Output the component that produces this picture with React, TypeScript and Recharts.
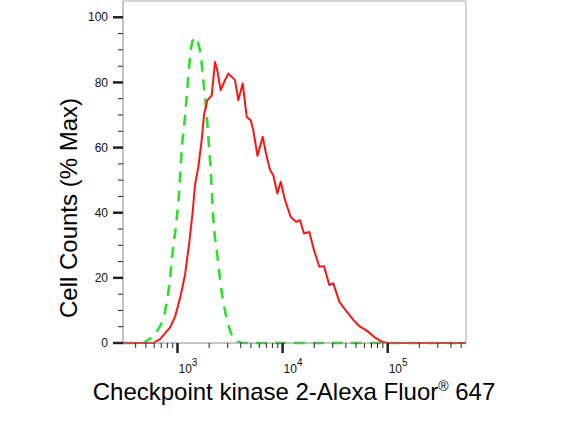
import React from "react";
import {
  LineChart,
  Line,
  XAxis,
  YAxis,
  ReferenceLine,
  Label
} from "recharts";

// stained sample (red, solid)
const sampleFluor = [
  303, 589, 682, 848, 947, 1056, 1179, 1295, 1395, 1467, 1577, 1699, 1787, 1921,
  2116, 2275, 2391, 2576, 2831, 3044, 3280, 3525, 3789, 4173, 4553, 4972, 5263,
  5770, 6467, 6952, 7591, 8154, 8904, 9592, 10540, 11940, 13420, 14640, 15980,
  17950, 19900, 22350, 24770, 27820, 30370, 34640, 40730, 47070, 54500, 63120,
  74060, 87690, 101300, 556000
];
const sampleCounts = [
  0, 0, 1.2, 4.7, 8, 13.7, 20.9, 31, 40.3, 48.5, 54, 62.3, 70, 74.5,
  76, 86.3, 83.7, 77.6, 80.7, 82.7, 81.7, 80.7, 74.5, 79.7, 69.4, 68.4, 65.3,
  57.5, 63.3, 58.2, 53.1, 51.5, 45.9, 49.5, 43.9, 38.7, 37.2, 37.7, 33.6,
  34.1, 28.5, 23.4, 23.6, 17.8, 18.3, 12.7, 9.6, 7.1, 5.0, 3.8,
  1.9, 0.4, 0, 0
];

// isotype control (green, dashed)
const controlFluor = [
  303, 470, 509, 634, 760, 835, 900, 983, 1040, 1096, 1179, 1267, 1344, 1413,
  1480, 1577, 1673, 1760, 1867, 1964, 2070, 2191, 2391, 2634, 2939, 3280, 3789,
  4198, 556000
];
const controlCounts = [
  0, 0, 0.6, 3.5, 9.6, 17.8, 28, 38.2, 47, 59.2, 69.4, 81.7, 90.4, 93.2,
  93.8, 91.9, 87.8, 80.7, 72.5, 63.3, 53.1, 38.2, 27, 15.7, 7.6, 2.5, 0.4,
  0, 0
];

const xMajor = [1000, 10000, 100000];
const xTicks = [
  400, 500, 600, 700, 800, 900, 1000,
  2000, 3000, 4000, 5000, 6000, 7000, 8000, 9000, 10000,
  20000, 30000, 40000, 50000, 60000, 70000, 80000, 90000, 100000,
  200000, 300000, 400000, 500000
];
const yTicks = [0, 5, 10, 15, 20, 25, 30, 35, 40, 45, 50, 55, 60, 65, 70, 75, 80, 85, 90, 95, 100];

const X_DOMAIN: [number, number] = [303, 556000];
const Y_DOMAIN: [number, number] = [0, 105];

const sampleData = sampleFluor.map((x, i) => ({ x, y: sampleCounts[i] }));
const controlData = controlFluor.map((x, i) => ({ x, y: controlCounts[i] }));

const FONT = "'Liberation Sans', Arial, sans-serif";

const XTick = (props: any) => {
  const { x, y, payload } = props;
  const v = payload.value;
  const major = xMajor.includes(v);
  return (
    <g>
      <line x1={x} x2={x} y1={y} y2={y + (major ? 10 : 5)} stroke="#222" strokeWidth={major ? 2.5 : 1} />
      {major && (
        <text x={x + 1} y={y + 30} fontSize={12} fill="#111" fontFamily={FONT}>
          10<tspan dy={-7} fontSize={10}>{Math.round(Math.log10(v))}</tspan>
        </text>
      )}
    </g>
  );
};

const YTick = (props: any) => {
  const { x, y, payload } = props;
  const v = payload.value;
  const major = v % 20 === 0;
  return (
    <g>
      <line x1={x - (major ? 10 : 5)} x2={x} y1={y} y2={y} stroke="#222" strokeWidth={major ? 2.5 : 1} />
      {major && (
        <text x={x - 15} y={y} dy="0.35em" textAnchor="end" fontSize={12} fill="#111" fontFamily={FONT}>
          {v}
        </text>
      )}
    </g>
  );
};

const App = () => {
  return (
    <div style={{ width: 583, height: 430, background: "#fff" }}>
      <style>{`body{margin:0}`}</style>
      <LineChart width={583} height={430} margin={{ top: 1, right: 117, bottom: 0, left: 0 }}>
        <XAxis
          type="number"
          dataKey="x"
          scale="log"
          domain={X_DOMAIN}
          ticks={xTicks}
          interval={0}
          tick={<XTick />}
          tickLine={false}
          tickSize={0}
          tickMargin={0}
          height={87}
          axisLine={{ stroke: "#8a8a8a" }}
        >
          <Label
            content={() => (
              <text x={294} y={400} textAnchor="middle" fontSize={24} fill="#000" fontFamily={FONT}>
                Checkpoint kinase 2-Alexa Fluor
                <tspan dy={-9} fontSize={14}>®</tspan>
                <tspan dy={9}> 647</tspan>
              </text>
            )}
          />
        </XAxis>
        <YAxis
          type="number"
          domain={Y_DOMAIN}
          ticks={yTicks}
          interval={0}
          tick={<YTick />}
          tickLine={false}
          tickSize={0}
          tickMargin={0}
          width={123}
          axisLine={{ stroke: "#8a8a8a" }}
        >
          <Label
            content={() => (
              <text
                x={77}
                y={208}
                transform="rotate(-90, 77, 208)"
                textAnchor="middle"
                fontSize={24}
                fill="#000"
                fontFamily={FONT}
              >
                Cell Counts (% Max)
              </text>
            )}
          />
        </YAxis>
        <ReferenceLine y={105} stroke="#a8a8a8" />
        <ReferenceLine x={556000} stroke="#a8a8a8" />
        <Line
          data={controlData}
          dataKey="y"
          type="monotone"
          stroke="#2ee02e"
          strokeWidth={2.6}
          strokeDasharray="11 8"
          dot={false}
          activeDot={false}
          isAnimationActive={false}
        />
        <Line
          data={sampleData}
          dataKey="y"
          type="linear"
          stroke="#ff1414"
          strokeWidth={2}
          strokeLinejoin="round"
          dot={false}
          activeDot={false}
          isAnimationActive={false}
        />
      </LineChart>
    </div>
  );
};

export default App;
